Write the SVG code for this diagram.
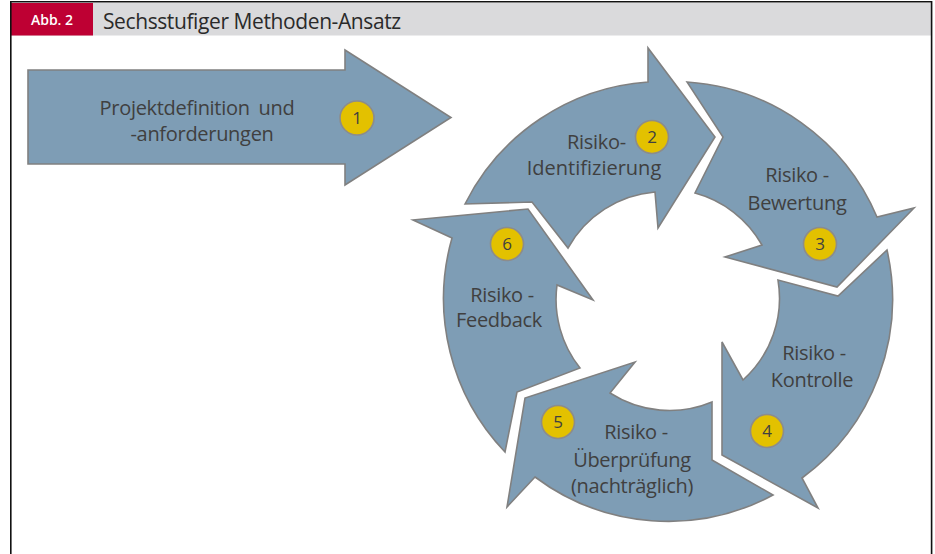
<svg xmlns="http://www.w3.org/2000/svg" width="935" height="554" viewBox="0 0 935 554">
<style>
.arr{fill:#7e9db5;stroke:#808080;stroke-width:1.6;stroke-linejoin:miter}
.t{font-family:"Open Sans","Noto Sans","Liberation Sans",sans-serif;font-size:20px;letter-spacing:-0.3px;fill:#404040;text-anchor:middle}
.num{fill:#e3c100;stroke:#8c8c8c;stroke-width:1.6}
.nt{font-family:"Open Sans","Noto Sans","Liberation Sans",sans-serif;font-size:17px;fill:#404040;text-anchor:middle}
</style>
<rect width="935" height="554" fill="#ffffff"/>
<g id="header">
<rect x="11" y="3" width="920" height="32.5" fill="#dadadc"/>
<rect x="11" y="3" width="82" height="32.5" fill="#be0033"/>
<text x="52" y="25" font-family="'Open Sans','Liberation Sans',sans-serif" font-size="14" font-weight="600" fill="#ffffff" text-anchor="middle">Abb. 2</text>
<text x="103" y="28.5" font-family="'Open Sans','Liberation Sans',sans-serif" font-size="21" letter-spacing="-0.4" fill="#2a2a2a">Sechsstufiger Methoden-Ansatz</text>
</g>
<g id="frame" fill="none" stroke="#111111" stroke-width="1.6">
<path d="M10.8,554 V1.8 H931.6 V554"/>
</g>
<g id="node1">
<path class="arr" d="M28,70 H345 V50 L451,117.5 L345,185 V164 H28 Z"/>
<text class="t" x="197" y="115" word-spacing="4">Projektdefinition und</text>
<text class="t" x="202" y="141">-anforderungen</text>
<circle class="num" cx="357" cy="118" r="17"/>
<text class="nt" x="357" y="124">1</text>
</g>
<g id="node2">
<path class="arr" d="M465,204 A222,222 0 0 1 648,82 L648,48 L715,137 L658,228 L655,192 A110,110 0 0 0 568,248 L532,202 Z"/>
<text class="t" x="567" y="149" style="text-anchor:start">Risiko-</text>
<text class="t" x="594" y="175" style="letter-spacing:0">Identifizierung</text>
<circle class="num" cx="652" cy="137" r="16.5"/>
<text class="nt" x="652" y="143">2</text>
</g>
<g id="node3">
<path class="arr" d="M687,82 A222,222 0 0 1 877,217 L914,208 L837,287 L725,257 L762,245 A110,110 0 0 0 695,193 L723,137 Z"/>
<text class="t" x="797" y="182">Risiko -</text>
<text class="t" x="797" y="210">Bewertung</text>
<circle class="num" cx="820" cy="244" r="16.5"/>
<text class="nt" x="820" y="250">3</text>
</g>
<g id="node4">
<path class="arr" d="M887,250 A222,222 0 0 1 802,478 L818,508 L722,455 L722,342 L743,380 A110,110 0 0 0 778,280 L838,296 Z"/>
<text class="t" x="814" y="360">Risiko -</text>
<text class="t" x="812" y="387">Kontrolle</text>
<circle class="num" cx="767" cy="431" r="16.5"/>
<text class="nt" x="767" y="437">4</text>
</g>
<g id="node5">
<path class="arr" d="M773,495 A222,222 0 0 1 535,477 L507,507 L525,398 L635,362 L610,393 A110,110 0 0 0 712,402 L712,460 Z"/>
<text class="t" x="636" y="439">Risiko -</text>
<text class="t" x="632" y="467">Überprüfung</text>
<text class="t" x="632" y="493">(nachträglich)</text>
<circle class="num" cx="558" cy="422" r="16.5"/>
<text class="nt" x="558" y="428">5</text>
</g>
<g id="node6">
<path class="arr" d="M505,452 A222,222 0 0 1 452,238 L413,220 L528,209 L593,300 L557,285 A110,110 0 0 0 580,368 L517,392 Z"/>
<text class="t" x="502" y="302">Risiko -</text>
<text class="t" x="499" y="327">Feedback</text>
<circle class="num" cx="507" cy="244" r="16.5"/>
<text class="nt" x="507" y="250">6</text>
</g>
</svg>
